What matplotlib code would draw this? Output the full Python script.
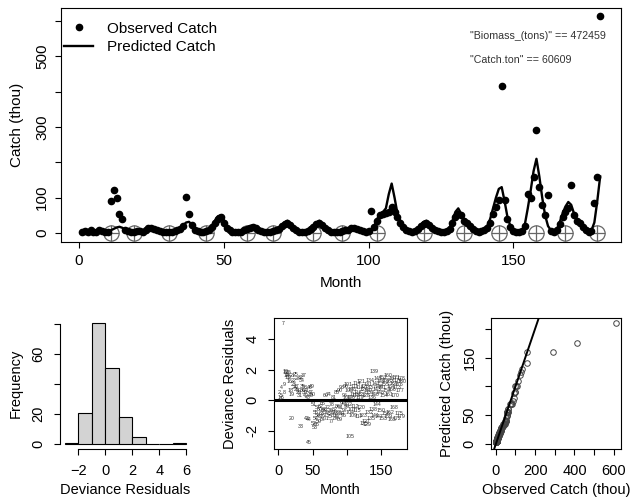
import numpy as np
import matplotlib
matplotlib.use("Agg")
import matplotlib.pyplot as plt

plt.rcParams['font.family'] = ['Liberation Sans', 'DejaVu Sans']

months = np.arange(1, 181)

observed = [
    2, 5, 3, 8, 4, 2, 10, 6, 4, 3,
    91, 121, 98, 55, 41, 10, 6, 3, 2, 5,
    6, 4, 8, 15, 14, 12, 10, 5, 3, 2,
    4, 3, 5, 8, 12, 20, 102, 55, 22, 10,
    6, 2, 3, 5, 10, 18, 30, 40, 45, 30,
    15, 8, 4, 3, 2, 4, 8, 12, 15, 18,
    14, 10, 6, 4, 3, 2, 5, 8, 12, 20,
    25, 30, 22, 15, 8, 4, 3, 4, 6, 12,
    18, 25, 30, 22, 14, 8, 4, 2, 2, 3,
    5, 8, 10, 14, 15, 12, 8, 5, 4, 6,
    62, 18, 35, 50, 55, 58, 60, 75, 60, 45,
    30, 16, 10, 6, 4, 6, 12, 20, 26, 30,
    24, 15, 10, 6, 4, 2, 5, 12, 28, 45,
    55, 50, 35, 28, 20, 12, 6, 4, 5, 10,
    15, 30, 55, 75, 93, 415, 95, 40, 18, 6,
    3, 2, 5, 20, 112, 100, 160, 292, 130, 80,
    51, 107, 6, 4, 8, 25, 45, 60, 70, 135,
    50, 35, 28, 18, 8, 4, 6, 85, 159, 612,
]

predicted = [
    3, 4, 5, 6, 5, 4, 6, 8, 7, 5,
    8, 12, 16, 18, 15, 10, 7, 5, 4, 3,
    4, 6, 9, 12, 15, 13, 9, 6, 5, 4,
    3, 4, 6, 9, 14, 22, 30, 32, 24, 14,
    8, 5, 4, 6, 12, 22, 36, 48, 50, 38,
    22, 12, 7, 5, 4, 6, 10, 15, 20, 22,
    18, 12, 8, 6, 5, 4, 6, 10, 16, 24,
    30, 35, 28, 18, 10, 6, 4, 5, 8, 14,
    22, 30, 35, 28, 18, 10, 6, 4, 3, 4,
    6, 9, 12, 16, 18, 15, 10, 7, 5, 6,
    10, 20, 40, 55, 60, 70, 110, 140, 100, 55,
    35, 20, 12, 8, 6, 8, 14, 24, 32, 35,
    28, 18, 12, 8, 5, 4, 6, 15, 35, 60,
    70, 55, 40, 30, 22, 15, 8, 5, 6, 12,
    20, 40, 70, 100, 125, 130, 90, 45, 20, 8,
    4, 3, 6, 25, 70, 120, 175, 210, 160, 100,
    50, 20, 8, 5, 10, 30, 55, 75, 88, 80,
    55, 40, 30, 20, 10, 5, 8, 30, 90, 160,
]

residuals = [
    0.2, 0.5, 0.1, 0.8, 0.3, 0.2, 5.05, 0.5, 1.0, 1.9,
    1.8, 1.6, 1.5, 1.7, 1.8, 1.2, 1.5, 0.6, 0.4, -1.2,
    1.6, 1.3, 1.0, 0.8, 1.7, 0.7, 0.9, 1.4, 0.5, 0.6,
    0.3, 1.5, -1.7, 1.3, 0.9, 0.6, 1.6, 0.8, 0.5, 0.3,
    0.6, -1.2, 0.2, -1.3, -2.8, 0.8, 0.5, 0.3, 0.9, 0.4,
    -0.3, -1.5, -1.8, -1.2, -0.8, -1.6, -0.5, -1.0, -1.4, -0.6,
    -1.1, -0.4, -0.9, -1.3, -0.2, -0.7, -1.0, -0.6, 0.3, -0.8,
    -1.2, -0.5, -0.9, 0.4, -1.1, -0.7, -1.4, -0.3, -0.8, -1.0,
    0.2, -0.6, -0.9, -1.2, 0.5, -0.4, -1.1, -0.8, -1.3, 0.6,
    -0.5, -0.9, 0.8, -0.2, -1.0, 0.3, -0.7, 0.9, -0.4, 0.2,
    1.0, -0.3, 0.6, -0.8, -2.4, 0.2, -0.6, 0.7, -1.0, 0.4,
    0.9, -0.4, 0.3, 1.1, -0.7, 0.5, -1.1, 0.8, 0.2, -0.5,
    1.2, 0.4, -1.0, 0.7, -1.5, 0.9, -1.4, 0.3, -1.6, 0.6,
    1.0, -0.8, 0.5, 1.3, -1.2, 0.2, 0.8, -0.6, 1.9, 0.4,
    -1.0, 1.1, 0.7, -0.3, 1.4, 0.9, -1.1, 0.5, 1.2, -0.7,
    0.8, 1.5, -1.2, 0.3, 1.0, -0.9, 1.3, 0.6, -1.1, 1.6,
    0.4, -0.8, 1.2, 0.9, -1.3, 0.7, 1.4, -0.5, 1.1, 0.3,
    1.5, -1.2, 0.8, 1.3, -0.9, 1.0, 0.6, 1.4, -1.1, 1.2,
]

closed_months = [11, 19, 31, 44, 58, 67, 81, 91, 103, 119, 133, 145, 158, 168, 179]
closed_values = [0] * len(closed_months)

hist_edges = [-3, -2, -1, 0, 1, 2, 3, 4, 5, 6]
hist_counts = [1, 21, 81, 51, 18, 5, 0, 0, 1]

biomass_text = '"Biomass_(tons)" == 472459'
catch_text = '"Catch.ton" == 60609'

FS_TOP = 11
FS_BOT = 10.5
fig = plt.figure(figsize=(6.3, 5.0), dpi=100)


def r_axes(ax, fs, pad):
    ax.tick_params(direction='out', length=4.5, width=0.8, labelsize=fs, pad=pad)
    for s in ax.spines.values():
        s.set_linewidth(0.8)


# ---------------- top panel ----------------
ax = fig.add_axes([61/630, 1-242/500, 560/630, 234/500])
r_axes(ax, FS_TOP, 4)
ax.plot(months, predicted, color='black', lw=1.7, zorder=3)
ax.plot(months, observed, 'o', color='black', ms=4.5, zorder=4)
ax.plot(closed_months, closed_values, 'o', ms=11, mfc='none', mec='#666666', mew=0.9, zorder=2)
ax.plot(closed_months, closed_values, '+', ms=11, mec='#666666', mew=0.9, zorder=2)
ax.set_xlim(-6.2, 187.2)
ax.set_ylim(-25, 636)
ax.set_xticks([0, 50, 100, 150])
ax.set_yticks([0, 100, 200, 300, 400, 500, 600])
ax.set_yticklabels(['0', '100', '', '300', '', '500', ''], rotation=90, va='center')
ax.set_xlabel('Month', fontsize=FS_TOP, labelpad=6)
ax.set_ylabel('Catch (thou)', fontsize=FS_TOP, labelpad=8)
h1, = ax.plot([], [], 'o', color='black', ms=4.5)
h2, = ax.plot([], [], color='black', lw=1.7)
ax.legend([h1, h2], ['Observed Catch', 'Predicted Catch'], loc='upper left',
          frameon=False, fontsize=FS_TOP, handlelength=1.96, borderaxespad=0.0,
          handletextpad=0.9, labelspacing=0.3, borderpad=0.9,
          bbox_to_anchor=(-0.02, 1.0))
ax.text(0.731, 0.88, biomass_text, transform=ax.transAxes, fontsize=7.7,
        color='#333333', va='center')
ax.text(0.731, 0.778, catch_text, transform=ax.transAxes, fontsize=7.7,
        color='#333333', va='center')

# ---------------- histogram ----------------
ax = fig.add_axes([60/630, 1-449/500, 131/630, 131/500])
r_axes(ax, FS_BOT, 6)
ax.bar(hist_edges[:-1], hist_counts, width=1, align='edge', color='#d3d3d3',
       edgecolor='black', lw=0.8)
ax.set_xlim(-3.36, 6.36)
ax.set_ylim(-3.24, 84.24)
for s in ['top', 'right']:
    ax.spines[s].set_visible(False)
ax.spines['left'].set_bounds(0, 80)
ax.spines['bottom'].set_bounds(-2, 6)
ax.set_xticks([-2, 0, 2, 4, 6])
ax.set_yticks([0, 20, 40, 60, 80])
ax.set_yticklabels(['0', '20', '', '60', ''], rotation=90, va='center')
ax.set_xlabel('Deviance Residuals', fontsize=FS_BOT, labelpad=4)
ax.set_ylabel('Frequency', fontsize=FS_BOT, labelpad=6)

# ---------------- residuals vs month ----------------
ax = fig.add_axes([274/630, 1-449/500, 133/630, 131/500])
r_axes(ax, FS_BOT, 6)
ax.set_xlim(-6.2, 187.2)
ax.set_ylim(-3.2, 5.38)
ax.axhline(0, color='black', lw=2.2, zorder=1)
for m, r in zip(months, residuals):
    ax.text(m, r, str(m), fontsize=3.8, ha='center', va='center', color='#333333', zorder=2)
ax.set_xticks([0, 50, 100, 150])
ax.set_xticklabels(['0', '50', '', '150'])
ax.set_yticks([-2, 0, 2, 4])
ax.set_yticklabels(['-2', '0', '2', '4'], rotation=90, va='center')
ax.set_xlabel('Month', fontsize=FS_BOT, labelpad=4)
ax.set_ylabel('Deviance Residuals', fontsize=FS_BOT, labelpad=6)

# ---------------- observed vs predicted ----------------
ax = fig.add_axes([491/630, 1-449/500, 130/630, 131/500])
r_axes(ax, FS_BOT, 6)
obs_sorted = np.sort(np.array(observed, dtype=float))
pred_sorted = np.sort(np.array(predicted, dtype=float))
ax.plot(obs_sorted, pred_sorted, 'o', ms=4, mfc='none', mec='#444444', mew=0.7)
ax.axline((0, 0), slope=1, color='black', lw=1.4)
ax.set_xlim(-24.5, 636.5)
ax.set_ylim(-8.4, 218.4)
ax.set_xticks([0, 100, 200, 300, 400, 500, 600])
ax.set_xticklabels(['0', '', '200', '', '400', '', '600'])
ax.set_yticks([0, 50, 100, 150, 200])
ax.set_yticklabels(['0', '50', '', '150', ''], rotation=90, va='center')
ax.set_xlabel('Observed Catch (thou)', fontsize=FS_BOT, labelpad=4)
ax.set_ylabel('Predicted Catch (thou)', fontsize=FS_BOT, labelpad=6)

fig.savefig('out.png', dpi=100)
